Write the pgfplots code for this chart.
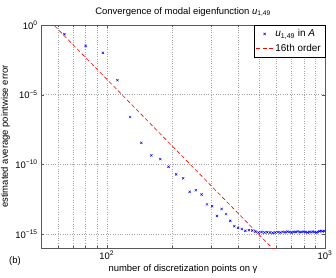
\documentclass[border=0pt]{standalone}
\usepackage{fontspec}
\setmainfont{Liberation Sans}
\usepackage{pgfplots}
\pgfplotsset{compat=1.18}
\begin{document}
\fontsize{9.5}{11}\selectfont
\begin{tikzpicture}
\useasboundingbox (-41bp,-30bp) rectangle (295bp,248bp);
\begin{axis}[
  at={(0,0)}, anchor=south west,
  scale only axis, width=284bp, height=223bp,
  xmode=log, ymode=log,
  xmin=50, xmax=1000, ymin=1e-16, ymax=1,
  xtick={100,1000}, xticklabels={10\textsuperscript{2},10\textsuperscript{3}},
  minor xtick={60,70,80,90,200,300,400,500,600,700,800,900},
  ytick={1e-15,1e-10,1e-5,1},
  yticklabels={10\textsuperscript{−15},10\textsuperscript{−10},10\textsuperscript{−5},10\textsuperscript{0}},
  minor ytick={},
  grid=both,
  major grid style={dotted, gray!70},
  minor grid style={dotted, gray!70},
  axis line style={black!65},
  tick style={black!65},
  major tick length=3bp, minor tick length=2bp,
  tick label style={font=\fontsize{9.5}{11}\selectfont},
  label style={font=\fontsize{9.5}{11}\selectfont},
  title style={font=\fontsize{9.5}{11}\selectfont, yshift=-1pt},
  title={Convergence of modal eigenfunction \textit{u}\textsubscript{1,49}},
  xlabel={number of discretization points on γ},
  ylabel={estimated average pointwise error},
  xlabel style={yshift=2pt},
  ylabel style={yshift=-1pt},
  legend style={at={(1,0.998)}, anchor=north east, draw=black, fill=white,
    font=\fontsize{10}{12}\selectfont, inner xsep=2pt, inner ysep=2pt, row sep=2pt,
    legend cell align=left},
  clip=true,
]
\addplot[only marks, mark=x, mark size=1.6pt, blue, mark options={line width=0.5pt}] coordinates {
(64,2.2e-1) (80,3.2e-2) (96,1.0e-2) (112,1.1e-4) (128,2.5e-7)
(144,3.5e-9) (160,4.4e-10) (176,2.4e-10) (192,6.8e-11) (208,1.9e-11)
(224,1.0e-11) (240,1.07e-12) (256,1.4e-12) (272,6.9e-13) (288,1.35e-13)
(304,1.0e-13) (320,2.0e-14) (336,6.3e-14) (352,2.7e-14) (368,8.9e-15)
(384,3.7e-15) (400,2.8e-15) (416,2.3e-15) (432,1.7e-15) (448,1.9e-15)
(464,1.8e-15) (480,1.5e-15) (496,1.3e-15) (512,1.4e-15) (528,1.3e-15)
(544,1.35e-15) (560,1.3e-15) (576,1.25e-15) (592,1.3e-15) (608,1.4e-15)
(624,1.3e-15) (640,1.45e-15) (656,1.35e-15) (672,1.5e-15) (688,1.4e-15)
(704,1.3e-15) (720,1.45e-15) (736,1.4e-15) (752,1.55e-15) (768,1.35e-15)
(784,1.45e-15) (800,1.5e-15) (816,1.4e-15) (832,1.3e-15) (848,1.45e-15)
(864,1.35e-15) (880,1.5e-15) (896,1.4e-15) (912,1.3e-15) (928,1.45e-15)
(944,1.6e-15) (960,1.7e-15) (976,1.55e-15) (992,1.65e-15)
};
\addlegendentry{\textit{u}\textsubscript{1,49} in \textit{A}}
\addplot[red, line width=0.6pt, dash pattern=on 4pt off 2.5pt] coordinates {
(50,8.6) (1000,1.32e-20)
};
\addlegendentry{16th order}
\end{axis}
\node at (-26bp,-13bp) {(b)};
\end{tikzpicture}
\end{document}
